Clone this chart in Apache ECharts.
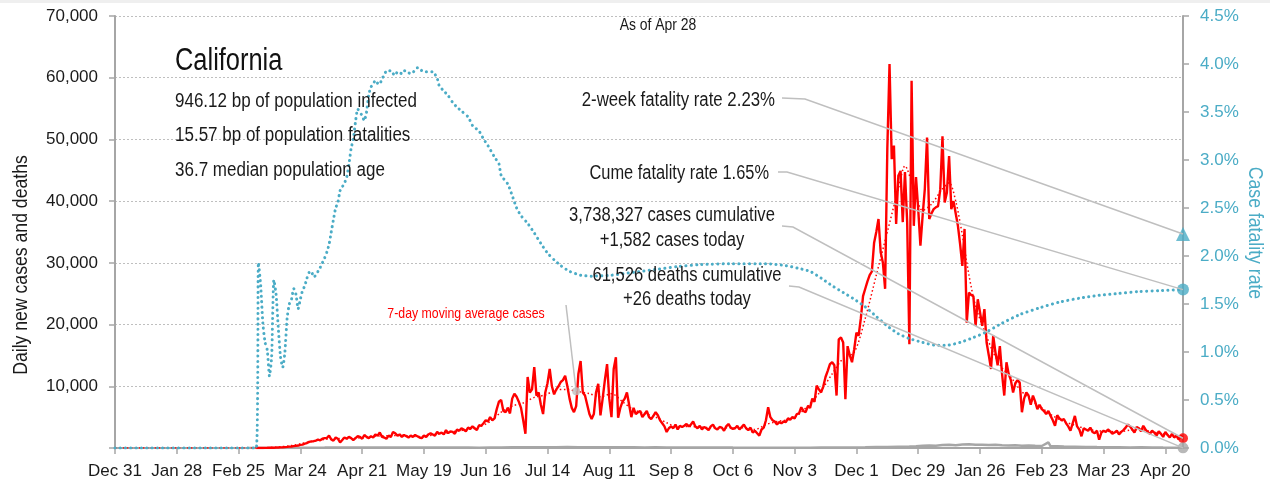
<!DOCTYPE html>
<html><head><meta charset="utf-8">
<script src="https://cdn.jsdelivr.net/npm/echarts@6/dist/echarts.min.js"></script>
<style>html,body{margin:0;padding:0;background:#fff}#c{width:1270px;height:491px}</style>
</head><body><div id="c"></div>
<script>
// ---------------- DATA ----------------
// x = days since Dec 31 2019; ticks every 28 days
const xTickLabels = ['Dec 31','Jan 28','Feb 25','Mar 24','Apr 21','May 19','Jun 16','Jul 14','Aug 11','Sep 8','Oct 6','Nov 3','Dec 1','Dec 29','Jan 26','Feb 23','Mar 23','Apr 20'];
const endDay = 484; // Apr 28 2021

// daily new cases, contiguous from casesStart
const casesStart = 64;
const casesDaily = [
 0,0,5,10,15,20,30,40,50,60,80,100,120,150,180,220,250,300,350,400,500,550,700,800,1000,1080,1100,1200,1350,1250,
 1500,1600,1620,2000,1400,1200,1700,1500,900,1300,1700,1500,1800,1600,1300,1600,1900,1800,1500,2100,1800,1600,1900,1700,2200,2000,2500,1800,1700,1500,2000,1800,2600,2400,2000,
 2200,1800,2100,1900,1700,2000,1800,2100,1900,1700,1600,2000,1800,2200,2400,2200,2000,2600,2300,2500,2200,2900,2400,2700,2600,2300,3000,2800,3200,3000,2700,3300,3100,3500,3200,2900,3700,3600,4000,4500,
 4300,5000,4500,4800,6300,7500,7800,6000,5800,6500,5600,8000,8800,8300,7500,6500,4500,2300,11500,9000,9500,13100,8500,9000,7000,5500,9000,10500,12800,10000,8700,9500,10000,10700,11000,11700,10000,8000,6500,5800,6800,12000,14100,9000,8500,7000,5500,4700,5500,9000,10400,5300,8000,11000,13600,8000,5000,12800,14700,4900,6500,7500,8000,9000,7000,5000,6500,5500,5800,6000,5000,5500,6000,5000,4700,5200,5800,5300,4500,4000,3500,2600,3200,3500,3200,3800,3000,3600,3400,3600,3900,3500,3800,4300,3500,3200,
 3600,3000,3400,3200,2900,3500,3800,3200,3000,3400,3300,2800,3500,3900,3300,3100,3200,3600,3000,3400,3800,3200,2900,3300,2500,2800,2400,
 2000,3000,3300,4500,6600,5000,4500,4300,3800,4200,4000,4300,4200,4800,4600,5000,4800,5500,5600,6600,6000,5800,6800,6500,8000,7500,10100,9500,9000,10000,11500,
 12500,13600,13900,13400,8500,17600,17900,17100,7900,16500,
 15000,13900,16000,18700,18200,21000,24600,25800,27000,28000,
 28600,33200,35000,37100,31700,30000,25800,48400,62200,46800,
 49000,36300,44100,44900,36600,44700,36600,16800,59500,36000,
 43900,38700,32800,37600,42000,50300,37100,38000,38700,39000,
 39200,41900,50500,39800,41400,47300,38700,40000,38000,36000,
 33000,29500,35500,20300,25200,24800,24600,19800,24100,22000,
 19800,22500,17100,15000,12800,18200,15500,13400,16500,12000,
 8500,13900,
 12000,11000,9000,10500,11000,10600,5800,8000,9000,8500,
 7000,8500,7500,6300,7000,6300,6000,5500,6000,5200,
 4500,3600,5300,4800,4500,4700,4000,3500,2800,4000,
 5200,3500,3000,1900,3200,3000,2800,3300,2600,2400,
 2800,1350,2500,2800,2600,3000,2700,2300,2500,2800,
 2200,2600,2900,3300,3800,3500,3000,2500,3400,3200,
 2700,3600,3000,2600,2300,2800,2500,2000,2700,2300,
 1800,2600,2100,1700,2300,1700,2000,1400,2000,1582
];

// 7-day moving average cases [day, value]
const avgPts = [[0,0],[60,0],[65,30],[70,80],[75,200],[80,400],[85,750],[90,1100],[95,1400],[100,1500],[105,1550],[110,1600],[115,1750],[120,1950],[125,2000],[130,2050],[135,1900],[140,1850],[145,2200],[150,2450],[155,2750],[160,3000],[165,3400],[170,4300],[175,5800],[180,6800],[185,7300],[190,8200],[195,8600],[200,9400],[205,9500],[209,9200],[215,8800],[220,8300],[225,8800],[230,7500],[235,6200],[240,5600],[245,5000],[250,4100],[255,3400],[260,3500],[265,3400],[270,3300],[275,3300],[280,3300],[285,3300],[290,3000],[295,3800],[300,4300],[305,4600],[310,5500],[315,7200],[320,9300],[325,12000],[330,14500],[335,15500],[340,21000],[345,28000],[350,35000],[355,42000],[358,45700],[362,42000],[366,38500],[370,39500],[375,42000],[378,43000],[381,40000],[384,34500],[387,28000],[390,23000],[394,19000],[398,15500],[402,13000],[406,11500],[410,9500],[415,7800],[420,6500],[425,5200],[430,4300],[435,3700],[440,3100],[445,2800],[450,2700],[455,2600],[460,2900],[465,3000],[470,2600],[475,2300],[480,2000],[484,1800]];
const avgCalloutDay = 209;

// daily deaths [day, value]
const deathPts = [[60,0],[70,2],[75,10],[80,20],[85,40],[90,60],[95,70],[100,90],[105,80],[110,100],[115,85],[120,95],[125,80],[130,90],[135,75],[140,85],[145,70],[150,75],[155,65],[160,70],[165,60],[170,75],[175,90],[180,110],[185,130],[190,115],[195,140],[200,130],[205,150],[210,135],[215,140],[220,120],[225,140],[230,110],[235,130],[240,100],[245,110],[250,90],[255,100],[260,80],[265,85],[270,70],[275,75],[280,65],[285,60],[290,55],[295,50],[300,45],[305,55],[310,50],[315,60],[320,65],[325,70],[330,90],[335,100],[340,120],[345,150],[350,180],[355,220],[360,260],[363,300],[366,380],[369,420],[372,350],[375,480],[378,520],[381,450],[384,560],[387,600],[390,520],[393,540],[396,480],[399,520],[402,450],[405,420],[408,460],[411,380],[414,400],[417,350],[420,320],[423,900],[424,280],[427,300],[430,250],[435,220],[440,180],[445,150],[450,130],[455,120],[460,100],[465,110],[470,90],[475,70],[480,60],[484,26]];

// cumulative case fatality rate, % [day, value]
const cfrPts = [[0,0],[64,0],[65,1.93],[66,1.70],[67,1.30],[68,1.10],[69,1.02],[70,0.75],[71,0.95],[72,1.75],[73,1.60],[74,1.25],[75,0.95],[76,0.84],[77,1.0],[78,1.35],[79,1.50],[80,1.55],[81,1.66],[82,1.60],[83,1.45],[84,1.55],[85,1.64],[86,1.69],[87,1.77],[88,1.83],[89,1.84],[90,1.78],[91,1.80],[92,1.84],[93,1.88],[94,1.93],[95,1.98],[96,2.04],[97,2.12],[98,2.25],[99,2.38],[100,2.50],[101,2.56],[102,2.68],[103,2.72],[104,2.76],[105,2.82],[106,2.95],[107,3.12],[108,3.22],[109,3.40],[110,3.53],[111,3.50],[112,3.46],[113,3.41],[114,3.50],[115,3.68],[116,3.76],[117,3.79],[118,3.83],[119,3.80],[120,3.79],[121,3.85],[122,3.88],[123,3.93],[124,3.93],[125,3.93],[126,3.90],[127,3.88],[128,3.92],[129,3.91],[130,3.90],[131,3.93],[132,3.93],[133,3.91],[134,3.90],[135,3.91],[136,3.94],[137,3.96],[138,3.96],[139,3.93],[140,3.92],[142,3.92],[144,3.92],[146,3.85],[147,3.77],[149,3.72],[151,3.67],[153,3.60],[155,3.55],[157,3.51],[160,3.45],[162,3.36],[165,3.30],[167,3.22],[169,3.15],[172,3.03],[174,2.96],[175,2.84],[178,2.75],[180,2.63],[182,2.50],[184,2.42],[187,2.34],[190,2.24],[193,2.13],[196,2.03],[199,1.96],[202,1.90],[206,1.84],[211,1.80],[216,1.79],[225,1.80],[235,1.83],[245,1.86],[255,1.89],[265,1.91],[280,1.92],[295,1.92],[304,1.90],[310,1.87],[315,1.84],[320,1.77],[325,1.69],[330,1.62],[335,1.55],[340,1.47],[345,1.37],[350,1.27],[355,1.19],[360,1.14],[366,1.10],[372,1.07],[377,1.07],[383,1.10],[389,1.15],[395,1.21],[402,1.30],[410,1.39],[419,1.46],[428,1.52],[437,1.56],[446,1.59],[455,1.61],[464,1.63],[474,1.64],[484,1.65]];

const lastCases = 1582, lastDeaths = 26, cumeCFR = 1.65, twoWeekCFR = 2.23;
const stateName = 'California';
const statLines = ['946.12 bp of population infected','15.57 bp of population fatalities','36.7 median population age'];
const asOf = 'As of Apr 28';

// ---------------- CHART ----------------
const FONT = "'Liberation Sans',Arial,sans-serif";
const TEAL = '#4bacc6', RED = '#ff0000', AXIS = '#a6a6a6', LEAD = '#bfbfbf';
const tickDays = xTickLabels.map((_, i) => i * 28);
const casesData = casesDaily.map((v, i) => [casesStart + i, v]);
const calloutVal = avgPts.find(p => p[0] === avgCalloutDay)[1];

const chart = echarts.init(document.getElementById('c'), null, {renderer: 'canvas'});
const axisLine = {show: true, lineStyle: {color: AXIS, width: 2}};
const axisTick = {show: true, length: 6, lineStyle: {color: AXIS, width: 1.5}};
chart.setOption({
  animation: false,
  grid: {left: 115, right: 87, top: 16, bottom: 43},
  xAxis: {
    type: 'value', min: 0, max: endDay, interval: 28,
    axisLine,
    axisTick: Object.assign({customValues: tickDays}, axisTick),
    axisLabel: {customValues: tickDays, formatter: v => xTickLabels[Math.round(v / 28)] || '',
      fontFamily: FONT, fontSize: 17, color: '#1a1a1a', margin: 15},
    splitLine: {show: false}
  },
  yAxis: [
    {
      type: 'value', min: 0, max: 70000, interval: 10000, axisLine, axisTick,
      axisLabel: {formatter: v => v === 0 ? '' : v.toLocaleString('en-US'), fontFamily: FONT, fontSize: 17, color: '#1a1a1a', margin: 17},
      splitLine: {show: true, lineStyle: {type: [2, 2], color: '#bfbfbf', width: 1}}
    },
    {
      type: 'value', min: 0, max: 4.5, interval: 0.5, position: 'right', axisLine, axisTick,
      axisLabel: {formatter: v => v.toFixed(1) + '%', fontFamily: FONT, fontSize: 17, color: TEAL, margin: 17},
      splitLine: {show: false}
    }
  ],
  series: [
    {name: 'deaths', type: 'line', data: deathPts, showSymbol: false, yAxisIndex: 0,
      lineStyle: {color: AXIS, width: 2.5}, z: 1},
    {name: 'avg', type: 'line', data: avgPts, showSymbol: false, smooth: 0.3, yAxisIndex: 0,
      lineStyle: {color: RED, width: 1.5, type: [1.5, 2.5]}, z: 2},
    {name: 'cases', type: 'line', data: casesData, showSymbol: false, yAxisIndex: 0,
      lineStyle: {color: RED, width: 2.4}, z: 3},
    {name: 'cfr', type: 'line', data: cfrPts, showSymbol: false, smooth: 0.2, yAxisIndex: 1,
      lineStyle: {color: TEAL, width: 3, type: [0.1, 5.2], cap: 'round'}, z: 4},
    {name: 'twoWeek', type: 'scatter', yAxisIndex: 1, data: [[endDay, twoWeekCFR]], symbol: 'triangle', symbolSize: 14, itemStyle: {color: TEAL}, clip: false, z: 6},
    {name: 'cume', type: 'scatter', yAxisIndex: 1, data: [[endDay, cumeCFR]], symbol: 'circle', symbolSize: 12, itemStyle: {color: TEAL}, clip: false, z: 6},
    {name: 'lastCases', type: 'scatter', yAxisIndex: 0, data: [[endDay, lastCases]], symbol: 'circle', symbolSize: 10, itemStyle: {color: RED}, clip: false, z: 6},
    {name: 'lastDeaths', type: 'scatter', yAxisIndex: 0, data: [[endDay, lastDeaths]], symbol: 'circle', symbolSize: 11, itemStyle: {color: AXIS}, clip: false, z: 6},
    {name: 'callout', type: 'scatter', yAxisIndex: 0, data: [[avgCalloutDay, calloutVal]], symbol: 'circle', symbolSize: 8, itemStyle: {color: LEAD}, clip: false, z: 6}
  ]
});

const px = (si, pt) => chart.convertToPixel({seriesIndex: si}, pt);
const pTwo = px(4, [endDay, twoWeekCFR]);
const pCume = px(5, [endDay, cumeCFR]);
const pCases = px(6, [endDay, lastCases]);
const pDeaths = px(7, [endDay, lastDeaths]);
const pCall = px(8, [avgCalloutDay, calloutVal]);

// condensed-looking text: Liberation Sans compressed horizontally
const txt = (x, y, text, size, fill, align, sx, extra) => Object.assign({
  type: 'text', x, y, z: 100, scaleX: sx || 0.83,
  style: {text, font: size + 'px ' + FONT, fill, align: align || 'left', verticalAlign: 'middle'}
}, extra || {});
const lead = pts => ({type: 'polyline', z: 90, shape: {points: pts}, style: {stroke: LEAD, lineWidth: 1.5, fill: null}});

chart.setOption({
  graphic: [
    {type: 'rect', z: 100, shape: {x: 0, y: 0, width: 1270, height: 3}, style: {fill: '#efefef'}},
    txt(175, 61, stateName, 31, '#111', 'left', 0.82),
    txt(175, 101, statLines[0], 20, '#1a1a1a', 'left', 0.85),
    txt(175, 135, statLines[1], 20, '#1a1a1a', 'left', 0.85),
    txt(175, 170, statLines[2], 20, '#1a1a1a', 'left', 0.85),
    txt(658, 25, asOf, 17, '#1a1a1a', 'center', 0.82),
    txt(21, 265, 'Daily new cases and deaths', 21, '#1a1a1a', 'center', 0.84, {rotation: Math.PI / 2}),
    txt(1255, 233, 'Case fatality rate', 21, TEAL, 'center', 0.84, {rotation: -Math.PI / 2}),
    txt(775, 100, '2-week fatality rate 2.23%', 20, '#1a1a1a', 'right', 0.84),
    txt(769, 173, 'Cume fatality rate 1.65%', 20, '#1a1a1a', 'right', 0.82),
    txt(672, 215, '3,738,327 cases cumulative', 20, '#1a1a1a', 'center', 0.83),
    txt(672, 240, '+1,582 cases today', 20, '#1a1a1a', 'center', 0.83),
    txt(687, 275, '61,526 deaths cumulative', 20, '#1a1a1a', 'center', 0.83),
    txt(687, 299, '+26 deaths today', 20, '#1a1a1a', 'center', 0.83),
    txt(466, 314, '7-day moving average cases', 15, RED, 'center', 0.82),
    lead([[782, 98], [805, 99], pTwo]),
    lead([[778, 172], [787, 172], pCume]),
    lead([[782, 226], [793, 227], pCases]),
    lead([[789, 286], [799, 287], pDeaths]),
    lead([[566, 305], pCall])
  ]
});
</script>
</body></html>
